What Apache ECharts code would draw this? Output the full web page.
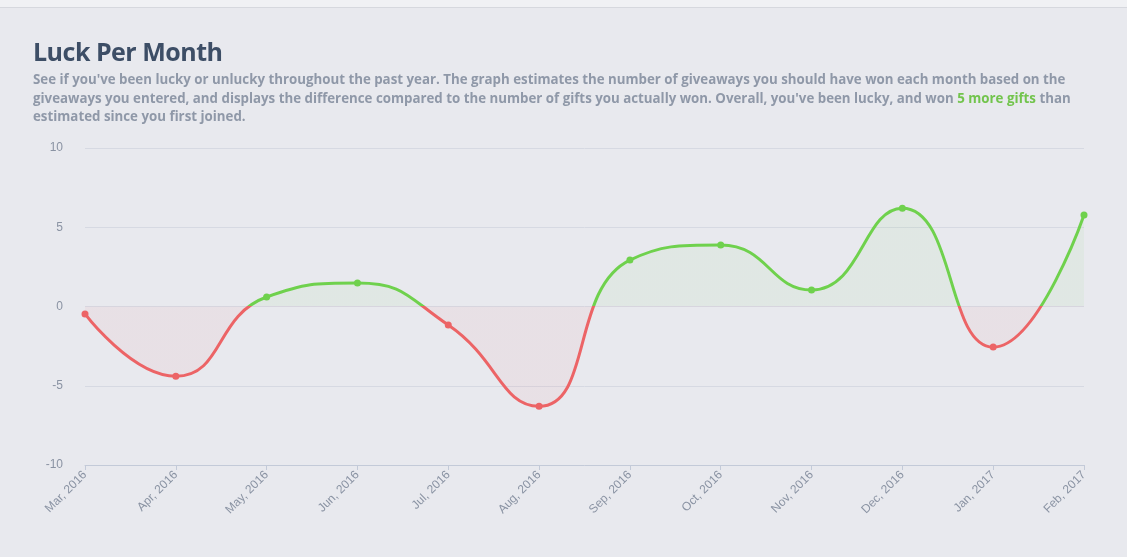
<!DOCTYPE html>
<html>
<head>
<meta charset="utf-8">
<script src="https://cdn.jsdelivr.net/npm/echarts@6/dist/echarts.min.js"></script>
<style>
    body{margin:0;background:#e8e9ee;font-family:"Open Sans",sans-serif;}
    .topbar{position:absolute;left:0;top:0;width:1127px;height:7px;background:#f0f1f4;border-bottom:1px solid #d6d8de;}
    .luckChart{position:absolute;left:0;top:0;width:1127px;height:557px;}
    .head{position:absolute;left:33px;top:34px;width:1040px;z-index:2;}
    .head h1{margin:0;font-size:25px;font-weight:700;color:#3d4e66;letter-spacing:-0.5px;}
    .head p{margin:2px 0 0 0;font-size:13.3px;font-weight:700;color:#8f98a8;line-height:18.5px;}
    .head span{color:#72c44d;}
</style>
</head>
<body>
<div class="topbar"></div>
<div class="head">
    <h1>Luck Per Month</h1>
    <p>See if you've been lucky or unlucky throughout the past year. The graph estimates the number of giveaways you should have won each month based on the giveaways you entered, and displays the difference compared to the number of gifts you actually won. Overall, you've been lucky, and won <span>5 more gifts</span> than estimated since you first joined.</p>
</div>
<div class="luckChart"></div>
<script>
var arrMonth = ['Mar, 2016','Apr, 2016','May, 2016','Jun, 2016','Jul, 2016','Aug, 2016','Sep, 2016','Oct, 2016','Nov, 2016','Dec, 2016','Jan, 2017','Feb, 2017'];
var arrLuck = [-0.47,-4.4,0.6,1.48,-1.17,-6.3,2.93,3.88,1.04,6.2,-2.56,5.77];

var green = '#6fd14d', red = '#ec6466';
// grid top 148, bottom 465 -> zero at 306.5
function split(c1, c2){
    return new echarts.graphic.LinearGradient(0, 0, 0, 557, [
        {offset:0, color:c1},{offset:306.5/557, color:c1},
        {offset:306.5/557, color:c2},{offset:1, color:c2}
    ], true);
}

var luckChart = echarts.init(document.querySelector('.luckChart'));
var luckOption = {
    animation:false,
    grid:{left:85,right:43,top:148,bottom:92},
    xAxis:{
        type:'category',
        data:arrMonth,
        boundaryGap:false,
        axisLine:{onZero:false,lineStyle:{color:'#c3cad8'}},
        axisTick:{show:true,alignWithLabel:true,lineStyle:{color:'#c3cad8'}},
        axisLabel:{rotate:45,color:'#8a93a3',fontSize:12,fontFamily:'Arial',margin:8}
    },
    yAxis:{
        type:'value',
        min:-10,max:10,interval:5,
        axisLine:{show:false},
        axisTick:{show:false},
        axisLabel:{color:'#8a93a3',fontSize:12,fontFamily:'Arial',margin:22},
        splitLine:{lineStyle:{color:'#d6d9e2'}}
    },
    series:[{
        type:'line',
        data:arrLuck,
        smooth:0.5,
        symbol:'circle',
        symbolSize:7,
        itemStyle:{color:function(p){ return p.value < 0 ? red : green; }},
        lineStyle:{width:3,color:split(green, red)},
        areaStyle:{color:split('rgba(111,209,77,0.09)','rgba(236,100,102,0.09)')}
    }]
};
luckChart.setOption(luckOption);
</script>
</body>
</html>
